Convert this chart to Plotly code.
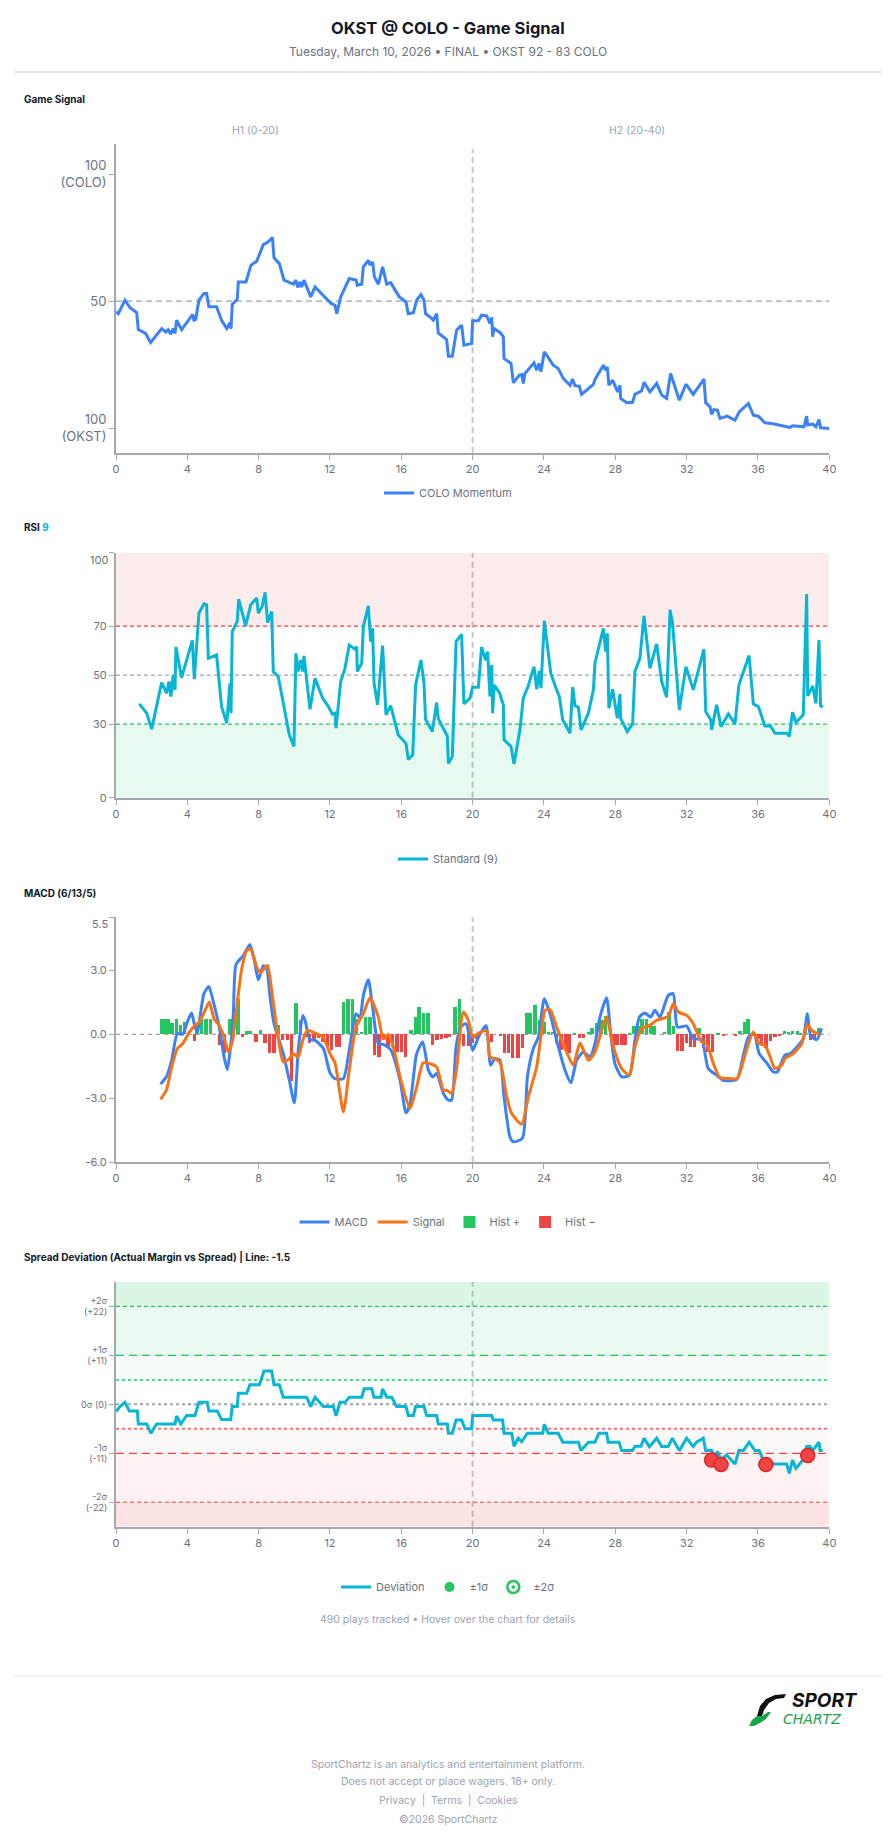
import plotly.graph_objects as go

W, H = 896, 1845
FONT = "Inter"

def py(p):
    return 1 - p / H

def pxx(p):
    return p / W

# ---------------- DATA ----------------
quarter_ticks = [0, 4, 8, 12, 16, 20, 24, 28, 32, 36, 40]

# Game Signal (COLO momentum, 0 = OKST 100, 100 = COLO 100)
gs_x = [0, 0.13, 0.5, 0.79, 1.16, 1.25, 1.66, 1.94, 2.56, 2.79,
        2.93, 3.07, 3.21, 3.31, 3.4, 3.68, 3.96, 4.3, 4.37, 4.47,
        4.65, 4.93, 5.08, 5.21, 5.64, 5.92, 6.21, 6.39, 6.45, 6.52,
        6.8, 6.86, 7.29, 7.57, 7.89, 8.26, 8.54, 8.77, 8.86, 9.16,
        9.42, 9.95, 10.09, 10.19, 10.32, 10.41, 10.54, 10.92, 11.16, 11.63,
        12.06, 12.28, 12.38, 12.6, 13.08, 13.46, 13.53, 13.78, 13.87, 14.15,
        14.24, 14.39, 14.49, 14.71, 14.95, 15.18, 15.4, 15.89, 16.26, 16.39,
        16.68, 16.86, 17.1, 17.27, 17.36, 17.7, 17.79, 17.98, 18.07, 18.54,
        18.64, 18.86, 19.1, 19.38, 19.51, 19.94, 20.0, 20.32, 20.5, 20.79,
        20.97, 21.07, 21.12, 21.2, 21.53, 21.72, 21.76, 22.15, 22.28, 22.62,
        22.75, 22.84, 22.93, 23.44, 23.59, 23.72, 23.83, 24.02, 24.52, 24.8,
        25.08, 25.46, 25.6, 25.74, 25.98, 26.11, 26.49, 26.77, 26.86, 27.33,
        27.46, 27.55, 27.64, 27.85, 28.13, 28.26, 28.3, 28.64, 28.97, 29.1,
        29.48, 29.61, 29.94, 30.32, 30.6, 30.88, 31.1, 31.59, 31.96, 32.37,
        32.97, 33.07, 33.31, 33.4, 33.53, 33.72, 33.87, 34.28, 34.71, 34.95,
        35.46, 35.74, 36.02, 36.39, 36.77, 37.61, 37.79, 37.94, 38.58, 38.73,
        38.79, 39.07, 39.25, 39.42, 39.51, 40.0]
gs_y = [45.8, 45.1, 50.4, 47.4, 45.5, 38.8, 37.3, 33.7, 39.2, 37.9,
        38.8, 37.0, 39.2, 37.3, 42.5, 38.8, 41.5, 44.8, 42.5, 42.8,
        50.4, 53.0, 53.0, 47.8, 47.8, 42.5, 39.2, 41.5, 39.2, 48.7,
        50.8, 57.6, 57.6, 64.2, 65.7, 72.3, 73.4, 75.1, 67.1, 64.8,
        58.3, 56.7, 58.3, 55.4, 57.6, 55.6, 58.3, 51.7, 55.6, 52.4,
        49.1, 48.4, 45.1, 51.7, 58.9, 58.3, 56.3, 56.7, 63.5, 66.1,
        64.2, 65.5, 59.6, 56.7, 63.5, 56.7, 57.3, 51.7, 49.7, 45.1,
        45.5, 50.4, 52.6, 50.4, 45.1, 43.2, 42.5, 45.1, 37.5, 34.9,
        28.3, 28.3, 38.6, 40.6, 32.7, 33.3, 42.3, 42.3, 44.5, 44.2,
        41.2, 43.6, 36.0, 39.2, 37.7, 36.0, 27.4, 25.5, 17.8, 20.9,
        21.1, 17.6, 21.5, 25.7, 22.8, 25.5, 22.2, 30.1, 24.8, 23.5,
        19.6, 16.9, 19.3, 16.7, 16.5, 13.3, 15.6, 17.2, 19.2, 24.8,
        22.8, 24.1, 16.9, 18.9, 14.3, 16.9, 11.7, 10.0, 10.2, 13.3,
        14.7, 18.1, 14.3, 17.6, 13.0, 11.7, 21.5, 11.0, 17.3, 13.3,
        19.3, 10.0, 8.4, 5.4, 7.3, 7.1, 3.8, 4.7, 3.1, 6.4,
        9.7, 5.1, 4.7, 2.1, 1.8, 0.8, 0.3, 0.9, 0.5, 4.7,
        1.2, 1.6, 0.5, 3.4, 0.1, -0.1]

# RSI (9)
rsi_x = [1.31, 1.72, 2.0, 2.56, 2.84, 2.97, 3.08, 3.21, 3.31, 3.36,
         3.68, 3.96, 4.28, 4.39, 4.65, 4.93, 5.08, 5.18, 5.64, 5.92,
         6.21, 6.39, 6.45, 6.52, 6.8, 6.88, 7.27, 7.55, 7.89, 7.98,
         8.2, 8.36, 8.5, 8.73, 8.82, 9.1, 9.48, 9.72, 9.98, 10.09,
         10.22, 10.36, 10.47, 10.54, 10.88, 11.16, 11.59, 11.91, 12.13, 12.28,
         12.34, 12.6, 12.84, 13.08, 13.4, 13.5, 13.53, 13.78, 13.87, 14.15,
         14.28, 14.39, 14.47, 14.67, 14.95, 15.14, 15.4, 15.83, 16.26, 16.39,
         16.64, 16.8, 17.1, 17.27, 17.36, 17.74, 17.98, 18.07, 18.58, 18.64,
         18.86, 19.07, 19.38, 19.51, 19.85, 20.0, 20.32, 20.5, 20.73, 20.84,
         20.97, 21.07, 21.12, 21.21, 21.5, 21.72, 21.76, 22.15, 22.32, 22.65,
         22.84, 23.12, 23.44, 23.59, 23.74, 23.83, 24.02, 24.38, 24.71, 24.86,
         25.05, 25.46, 25.61, 25.74, 25.93, 26.08, 26.49, 26.77, 26.86, 27.33,
         27.46, 27.55, 27.64, 27.85, 28.11, 28.26, 28.3, 28.67, 28.97, 29.1,
         29.38, 29.61, 29.94, 30.32, 30.6, 30.88, 31.07, 31.21, 31.59, 31.96,
         32.37, 32.97, 33.07, 33.35, 33.4, 33.68, 33.93, 34.34, 34.71, 34.93,
         35.5, 35.74, 36.02, 36.39, 36.71, 36.95, 37.61, 37.76, 37.94, 38.13,
         38.54, 38.73, 38.79, 39.07, 39.25, 39.42, 39.51, 39.63]
rsi_y = [38.3, 34.5, 28.0, 47.0, 42.6, 47.4, 41.3, 50.1, 44.0, 61.5,
         49.0, 56.2, 64.2, 48.4, 75.3, 79.1, 78.7, 56.9, 58.3, 37.2,
         30.4, 46.7, 34.5, 67.8, 72.0, 81.1, 70.1, 78.7, 81.5, 75.3,
         78.2, 83.8, 71.5, 76.0, 51.5, 49.4, 34.5, 25.6, 20.9, 58.9,
         51.5, 56.2, 51.5, 57.9, 36.1, 48.7, 40.6, 37.2, 34.1, 34.5,
         28.4, 47.4, 52.8, 62.3, 60.6, 61.7, 51.5, 54.9, 69.8, 78.3,
         63.7, 69.1, 46.7, 37.9, 62.1, 33.8, 37.6, 25.6, 22.2, 15.6,
         17.5, 46.0, 56.2, 46.7, 32.0, 27.0, 38.8, 32.4, 25.1, 14.0,
         16.8, 63.7, 66.7, 38.3, 40.6, 45.1, 45.1, 61.5, 56.2, 59.6,
         41.3, 54.2, 34.5, 46.0, 42.9, 37.9, 23.6, 20.9, 13.8, 27.7,
         40.6, 45.7, 53.5, 44.3, 51.8, 44.7, 72.3, 50.8, 44.0, 41.3,
         31.8, 26.3, 45.1, 37.5, 36.9, 27.7, 34.5, 44.0, 54.9, 69.1,
         59.6, 67.1, 36.5, 44.3, 32.4, 42.3, 32.4, 27.0, 30.1, 51.5,
         56.9, 74.2, 52.8, 62.8, 47.4, 41.0, 76.7, 71.3, 35.8, 53.5,
         44.0, 60.6, 35.2, 31.8, 27.7, 37.9, 29.0, 34.2, 30.1, 46.0,
         58.0, 38.3, 37.2, 29.3, 29.3, 26.3, 26.3, 25.1, 34.9, 30.7,
         33.8, 83.1, 41.6, 45.6, 38.5, 64.4, 37.5, 36.9]

# MACD (6/13/5)
macd_x = [2.5, 2.84, 3.12, 3.44, 3.74, 4.0, 4.24, 4.43, 4.56, 4.93,
          5.21, 5.46, 5.79, 6.06, 6.24, 6.39, 6.58, 6.73, 7.14, 7.51,
          7.74, 7.98, 8.26, 8.45, 8.64, 8.86, 9.38, 9.72, 10.0, 10.22,
          10.47, 10.6, 10.88, 11.16, 11.63, 12.0, 12.28, 12.75, 13.08, 13.46,
          13.68, 13.87, 14.15, 14.39, 14.71, 14.99, 15.4, 15.93, 16.26, 16.49,
          16.86, 17.2, 17.51, 17.76, 17.98, 18.36, 18.64, 18.82, 19.07, 19.33,
          19.63, 20.0, 20.37, 20.75, 21.01, 21.25, 21.53, 21.76, 22.09, 22.28,
          22.79, 23.07, 23.4, 23.68, 24.02, 24.34, 24.71, 25.18, 25.51, 25.83,
          26.21, 26.58, 26.86, 27.14, 27.51, 27.74, 27.98, 28.36, 28.79, 29.1,
          29.35, 29.66, 29.98, 30.22, 30.5, 30.97, 31.25, 31.48, 32.0, 32.37,
          32.84, 33.21, 33.68, 34.06, 34.8, 35.18, 35.46, 35.78, 36.07, 36.49,
          36.86, 37.08, 37.51, 37.79, 38.26, 38.54, 38.77, 38.95, 39.29, 39.57]
macd_y = [-2.34, -1.97, -1.22, 0.03, 0.0, 0.58, 1.0, 0.34, 0.11, 1.91,
          2.25, 1.52, 0.34, -1.06, -1.66, -0.83, 0.97, 3.28, 3.70, 4.22,
          3.55, 2.56, 3.23, 3.08, 1.75, 0.5, -0.91, -2.16, -3.22, -0.75,
          0.89, 0.66, -0.25, -0.28, -0.67, -1.81, -2.08, -2.08, -0.75, 0.97,
          0.78, 1.83, 2.56, 1.28, -0.44, -0.47, -0.72, -2.16, -3.69, -3.25,
          -0.91, -0.36, -1.66, -2.0, -1.84, -2.78, -3.09, -3.09, -0.59, 0.34,
          0.5, -0.75, -0.05, 0.42, -1.45, -1.14, -1.22, -2.94, -4.81, -5.05,
          -4.89, -2.0, -0.67, -0.13, 1.67, 0.97, -0.28, -1.69, -2.28, -1.22,
          -0.83, -1.06, -0.44, 0.81, 1.72, 0.03, -1.38, -2.0, -1.92, -0.28,
          0.81, 1.0, 0.81, 1.13, 0.81, 1.83, 1.91, 0.34, 0.39, -0.2,
          -0.25, -1.61, -1.92, -2.16, -2.13, -0.98, -0.13, 0.03, -0.91, -1.34,
          -1.77, -1.77, -0.98, -0.91, -0.52, -0.2, 0.97, -0.05, -0.25, 0.27]

signal_x = [2.5, 2.84, 3.12, 3.44, 3.74, 4.06, 4.34, 4.67, 4.93, 5.23,
            5.5, 5.79, 6.06, 6.3, 6.54, 6.73, 7.05, 7.33, 7.55, 7.89,
            8.11, 8.36, 8.5, 8.73, 9.01, 9.38, 9.72, 9.94, 10.22, 10.47,
            10.73, 11.16, 11.63, 12.0, 12.28, 12.75, 13.08, 13.46, 13.87, 14.24,
            14.71, 14.99, 15.27, 15.55, 16.02, 16.49, 16.86, 17.23, 17.61, 17.98,
            18.36, 18.54, 18.82, 19.1, 19.48, 19.76, 20.0, 20.32, 20.79, 20.97,
            21.25, 21.53, 21.91, 22.19, 22.75, 23.12, 23.59, 23.87, 24.06, 24.34,
            24.71, 25.23, 25.64, 26.02, 26.49, 26.86, 27.51, 27.89, 28.36, 28.79,
            29.1, 29.48, 29.94, 30.32, 30.97, 31.25, 31.53, 32.0, 32.37, 32.84,
            33.12, 33.5, 33.87, 34.43, 34.84, 35.27, 35.74, 36.07, 36.39, 36.67,
            36.95, 37.33, 37.51, 37.98, 38.45, 38.77, 39.01, 39.44]
signal_y = [-3.06, -2.59, -1.53, -0.67, -0.44, 0.03, 0.34, 0.58, 1.0, 1.52,
            0.73, 0.42, -0.13, -0.83, -0.28, 0.97, 3.08, 3.94, 4.02, 3.16,
            2.88, 3.16, 3.23, 2.06, 0.34, -1.3, -1.14, -0.91, -1.06, -0.28,
            0.19, 0.06, -0.16, -0.91, -1.34, -3.64, -1.69, 0.34, 0.97, 1.72,
            0.81, -0.2, 0.0, -0.59, -2.31, -3.48, -2.47, -1.34, -1.38, -1.53,
            -2.63, -2.63, -2.78, -1.61, 1.05, 0.66, -0.13, 0.06, 0.16, -1.06,
            -1.14, -1.3, -2.94, -3.72, -4.22, -2.94, -1.53, 0.19, 1.13, 1.16,
            0.34, -0.75, -1.45, -0.41, -1.22, -0.83, 0.81, -0.59, -1.61, -1.92,
            -0.59, 0.27, 0.42, 0.66, 0.84, 1.44, 1.05, 0.89, 0.5, -0.36,
            -0.44, -1.38, -2.03, -2.08, -2.08, -0.98, 0.11, -0.44, -0.52, -1.03,
            -1.61, -1.45, -1.14, -0.91, -0.44, 0.47, 0.19, 0.0]

hist_pos_x = [2.55, 2.75, 2.95, 3.15, 3.4, 3.6, 3.85, 4.55, 4.8, 5.05,
              5.3, 6.4, 6.6, 6.85, 7.35, 7.55, 8.1, 9.1, 10.1, 10.35,
              12.75, 13.0, 13.25, 13.5, 13.75, 14.0, 14.25, 16.55, 16.8, 17.0,
              17.25, 17.5, 19.0, 19.25, 20.45, 23.05, 23.25, 23.5, 23.75, 24.0,
              24.25, 24.5, 25.7, 26.5, 26.7, 26.95, 27.2, 27.45, 28.8, 29.05,
              29.3, 29.5, 29.75, 30.0, 30.2, 30.75, 31.0, 31.25, 32.7, 33.75,
              35.0, 35.25, 35.45, 37.5, 37.7, 37.95, 38.2, 38.4, 38.65, 39.4]
hist_pos_y = [0.69, 0.69, 0.69, 0.53, 0.73, 0.42, 0.58, 0.47, 0.94, 0.73,
              0.73, 0.69, 0.89, 1.67, 0.14, 0.14, 0.19, 0.42, 1.47, 0.66,
              1.52, 1.67, 1.67, 0.69, 0.11, 0.81, 0.81, 0.19, 0.81, 1.28,
              0.97, 0.97, 1.28, 1.63, 0.11, 0.97, 0.97, 1.36, 0.66, 0.58,
              0.11, 0.11, 0.06, 0.11, 0.3, 0.5, 0.66, 0.84, 0.06, 0.39,
              0.39, 0.73, 0.73, 0.39, 0.39, 0.11, 1.05, 0.39, 0.3, 0.03,
              0.16, 0.58, 0.73, 0.16, 0.11, 0.16, 0.16, 0.06, 0.31, 0.27]

hist_neg_x = [4.4, 5.8, 6.1, 7.1, 7.85, 8.35, 8.6, 8.85, 9.35, 9.6,
              9.85, 10.6, 10.85, 11.1, 11.35, 11.6, 11.85, 12.1, 12.35, 12.55,
              14.5, 14.75, 15.0, 15.25, 15.5, 15.75, 16.0, 16.25, 17.75, 18.0,
              18.25, 18.5, 18.7, 19.5, 19.75, 20.0, 20.25, 21.05, 21.55, 21.8,
              22.0, 22.25, 22.55, 22.8, 24.7, 24.95, 25.2, 25.4, 26.0, 26.2,
              27.9, 28.1, 28.35, 28.55, 31.5, 31.75, 32.0, 32.2, 32.45, 32.95,
              33.2, 33.45, 34.05, 34.75, 35.75, 36.0, 36.2, 36.45, 36.7, 36.95,
              37.2, 38.95, 39.15]
hist_neg_y = [-0.34, -0.52, -0.88, -0.13, -0.36, -0.44, -0.91, -0.91, -0.28, -0.28,
              -2.23, -0.13, -0.44, -0.28, -0.2, -0.36, -0.59, -0.75, -0.59, -0.59,
              -0.98, -1.06, -0.28, -0.59, -0.59, -0.83, -0.83, -1.06, -0.52, -0.28,
              -0.25, -0.2, -0.13, -0.56, -0.56, -0.44, -0.25, -0.36, -0.05, -0.88,
              -0.88, -1.14, -1.14, -0.67, -0.44, -0.75, -0.75, -0.91, -0.2, -0.2,
              -0.59, -0.52, -0.52, -0.52, -0.78, -0.78, -0.44, -0.62, -0.62, -0.67,
              -0.83, -0.83, -0.09, -0.05, -0.09, -0.25, -0.44, -0.67, -0.31, -0.13,
              -0.09, -0.28, -0.25]

# Spread deviation (actual margin vs spread)
dev_x = [0, 0.22, 0.5, 0.75, 1.2, 1.25, 1.72, 1.96, 2.28, 3.31,
         3.4, 3.64, 3.96, 4.43, 4.65, 5.12, 5.21, 5.68, 5.92, 6.43,
         6.52, 6.8, 6.86, 7.33, 7.51, 8.04, 8.3, 8.73, 8.86, 9.16,
         9.38, 10.69, 10.92, 11.16, 11.63, 12.19, 12.34, 12.56, 12.84, 13.08,
         13.78, 13.91, 14.34, 14.47, 14.86, 14.95, 15.18, 15.46, 15.74, 16.26,
         16.39, 16.68, 16.8, 17.27, 17.42, 17.98, 18.07, 18.58, 18.64, 18.86,
         19.07, 19.38, 19.57, 19.94, 20.0, 21.07, 21.16, 21.68, 21.76, 22.19,
         22.32, 22.56, 22.75, 23.07, 23.93, 24.02, 24.24, 24.8, 25.05, 25.93,
         26.07, 26.49, 26.86, 27.08, 27.51, 27.6, 28.21, 28.36, 28.97, 29.1,
         29.44, 29.61, 29.91, 30.32, 30.6, 30.97, 31.2, 31.59, 32.0, 32.37,
         32.56, 32.93, 33.07, 33.4, 33.59, 33.72, 33.93, 34.24, 34.71, 34.93,
         35.18, 35.51, 35.83, 36.07, 36.39, 37.61, 37.76, 37.94, 38.13, 38.54,
         38.73, 38.92, 39.07, 39.25, 39.42, 39.48, 39.63]
dev_y = [-1.65, -0.5, 0.45, -1.5, -1.5, -4.4, -4.4, -6.5, -4.4, -4.4,
         -2.6, -4.4, -2.5, -2.5, 0.45, 0.45, -1.5, -1.5, -3.4, -3.4,
         -0.5, -0.5, 2.5, 2.5, 4.4, 4.4, 7.5, 7.5, 4.4, 4.4,
         1.6, 1.6, -0.5, 1.6, -0.5, -0.5, -2.6, 0.45, 0.45, 1.6,
         1.6, 3.5, 3.5, 1.6, 1.6, 3.5, 1.6, 1.6, -0.5, -0.5,
         -2.5, -2.5, -0.5, -0.5, -2.5, -2.5, -4.4, -4.4, -6.5, -6.5,
         -3.5, -3.5, -5.5, -5.5, -2.5, -2.5, -3.5, -3.5, -6.5, -6.5,
         -9.4, -7.6, -8.4, -6.5, -6.5, -4.5, -6.5, -6.5, -8.5, -8.5,
         -10.4, -8.5, -8.5, -6.5, -6.5, -8.5, -8.5, -10.4, -10.4, -9.4,
         -9.4, -7.6, -9.5, -7.6, -9.5, -9.5, -7.6, -10.4, -7.6, -9.5,
         -8.5, -7.6, -10.4, -10.4, -11.8, -10.6, -12.4, -11.4, -13.4, -10.4,
         -10.4, -8.5, -10.4, -10.4, -13.4, -13.4, -15.5, -12.5, -14.4, -12.4,
         -9.5, -9.5, -10.4, -9.4, -8.5, -10.4, -10.4]

alert_x = [33.4, 33.93, 36.44, 38.79]
alert_y = [-12.5, -13.5, -13.5, -11.5]

sigma = 11
sigma_ticks = [22, 11, 0, -11, -22]
sigma_labels = ["+2σ<br>(+22)", "+1σ<br>(+11)", "0σ (0)", "-1σ<br>(-11)", "-2σ<br>(-22)"]

gs_ticks = [0, 50, 100]
gs_labels = ["100<br>(OKST)", "50", "100<br>(COLO)"]
rsi_ticks = [0, 30, 50, 70, 100]
rsi_labels = ["0", "30", "50", "70", ""]
macd_ticks = [-6, -3, 0, 3, 5.5]
macd_labels = ["-6.0", "-3.0", "0.0", "3.0", ""]

# ---------------- COLORS ----------------
BLUE = "#3b82f6"
CYAN = "#06b6d4"
ORANGE = "#f97316"
GREEN = "#22c55e"
RED = "#ef4444"
GREY = "#9ca3af"
TICK = "#6b7280"
AXIS = "#a3a8b2"

# ---------------- FIGURE ----------------
fig = go.Figure()

fig.add_trace(go.Scatter(x=gs_x, y=gs_y, mode="lines", name="COLO Momentum",
                         line=dict(color=BLUE, width=3), xaxis="x", yaxis="y",
                         legend="legend"))

fig.add_trace(go.Scatter(x=rsi_x, y=rsi_y, mode="lines", name="Standard (9)",
                         line=dict(color=CYAN, width=3), xaxis="x2", yaxis="y2",
                         legend="legend2"))

fig.add_trace(go.Bar(x=hist_pos_x, y=hist_pos_y, name="Hist +", marker=dict(color=GREEN, line=dict(width=0)),
                     width=0.19, xaxis="x3", yaxis="y3", legend="legend3", legendrank=3))
fig.add_trace(go.Bar(x=hist_neg_x, y=hist_neg_y, name="Hist −", marker=dict(color=RED, line=dict(width=0)),
                     width=0.19, xaxis="x3", yaxis="y3", legend="legend3", legendrank=4))
fig.add_trace(go.Scatter(x=macd_x, y=macd_y, mode="lines", name="MACD",
                         line=dict(color=BLUE, width=3, shape="spline", smoothing=0.6),
                         xaxis="x3", yaxis="y3", legend="legend3", legendrank=1))
fig.add_trace(go.Scatter(x=signal_x, y=signal_y, mode="lines", name="Signal",
                         line=dict(color=ORANGE, width=3, shape="spline", smoothing=0.6),
                         xaxis="x3", yaxis="y3", legend="legend3", legendrank=2))

fig.add_trace(go.Scatter(x=dev_x, y=dev_y, mode="lines", name="Deviation",
                         line=dict(color=CYAN, width=3), xaxis="x4", yaxis="y4",
                         legend="legend4", legendrank=1))
fig.add_trace(go.Scatter(x=alert_x, y=alert_y, mode="markers", showlegend=False,
                         marker=dict(color=RED, size=14, line=dict(color="#dc2626", width=1.5)),
                         xaxis="x4", yaxis="y4"))
fig.add_trace(go.Scatter(x=[None], y=[None], mode="markers", name="±1σ",
                         marker=dict(color=GREEN, size=10), xaxis="x4", yaxis="y4",
                         legend="legend4", legendrank=2))
fig.add_trace(go.Scatter(x=[None], y=[None], mode="markers", name="±2σ",
                         marker=dict(color=GREEN, size=12, symbol="circle-open-dot", line=dict(width=2.5, color=GREEN)),
                         xaxis="x4", yaxis="y4", legend="legend4", legendrank=3))

# ---------------- AXES ----------------
XD = [pxx(116), pxx(829.3)]

def xax(anchor):
    return dict(domain=XD, anchor=anchor, range=[0, 40], tickvals=quarter_ticks,
                showline=True, linecolor=AXIS, linewidth=2, ticks="outside", ticklen=5,
                tickcolor=AXIS, tickwidth=1, showgrid=False, zeroline=False,
                tickfont=dict(size=11, color=TICK, family=FONT), fixedrange=True)

def yax(anchor, top, bottom, rng, tv, tt, fs=11):
    return dict(domain=[py(bottom), py(top)], anchor=anchor, range=rng, tickvals=tv, ticktext=tt,
                showline=True, linecolor=AXIS, linewidth=2, ticks="outside", ticklen=5,
                tickcolor=AXIS, tickwidth=1, showgrid=False, zeroline=False,
                tickfont=dict(size=fs, color=TICK, family=FONT), fixedrange=True)

layout = dict(
    width=W, height=H, autosize=False,
    margin=dict(l=0, r=0, t=0, b=0, pad=0, autoexpand=False),
    paper_bgcolor="white", plot_bgcolor="white",
    font=dict(family=FONT, color=TICK),
    barmode="overlay", bargap=0,
    xaxis=xax("y"),
    yaxis=yax("x", 144.3, 453, [-9.8, 111.8], gs_ticks, gs_labels, fs=13),
    xaxis2=xax("y2"),
    yaxis2=yax("x2", 552.7, 797.7, [0, 100], rsi_ticks, rsi_labels),
    xaxis3=xax("y3"),
    yaxis3=yax("x3", 917.3, 1162, [-6, 5.5], macd_ticks, macd_labels),
    xaxis4=xax("y4"),
    yaxis4=yax("x4", 1282, 1526.7, [-27.5, 27.5], sigma_ticks, sigma_labels, fs=9),
)

def legend_at(yp):
    return dict(orientation="h", x=0.5, xanchor="center", y=py(yp), yanchor="middle",
                font=dict(size=11, color=TICK, family=FONT), bgcolor="rgba(0,0,0,0)",
                itemwidth=30, traceorder="normal")

layout["legend"] = legend_at(493)
layout["legend2"] = legend_at(859)
layout["legend3"] = legend_at(1222)
layout["legend4"] = legend_at(1587)
fig.update_layout(**layout)

# ---------------- SHAPES ----------------
shapes = []

def hline(xr, yr, y, color, dash, width=1.2, layer="below"):
    shapes.append(dict(type="line", xref=xr, yref=yr, x0=0, x1=40, y0=y, y1=y,
                       line=dict(color=color, dash=dash, width=width), layer=layer))

def band(xr, yr, y0, y1, color):
    shapes.append(dict(type="rect", xref=xr, yref=yr, x0=0, x1=40, y0=y0, y1=y1,
                       fillcolor=color, line=dict(width=0), layer="below"))

def vline(xr, yr, top=1.0):
    shapes.append(dict(type="line", xref=xr, yref=yr + " domain", x0=20, x1=20, y0=0, y1=top,
                       line=dict(color="#c4c8cf", dash="6px,4px", width=2), layer="below"))

# Game signal
hline("x", "y", 50, GREY, "6px,4px", 1.2)
vline("x", "y", 0.985)

# RSI
band("x2", "y2", 70, 100, "rgba(239,68,68,0.10)")
band("x2", "y2", 0, 30, "rgba(34,197,94,0.10)")
hline("x2", "y2", 70, RED, "4px,3px", 1.2)
hline("x2", "y2", 50, GREY, "4px,3px", 1.2)
hline("x2", "y2", 30, GREEN, "4px,3px", 1.2)
vline("x2", "y2")

# MACD
hline("x3", "y3", 0, GREY, "4px,4px", 1.2)
vline("x3", "y3")

# Spread deviation
band("x4", "y4", 22, 27.5, "rgba(34,197,94,0.16)")
band("x4", "y4", 11, 22, "rgba(34,197,94,0.09)")
band("x4", "y4", 5.5, 11, "rgba(34,197,94,0.04)")
band("x4", "y4", -11, -5.5, "rgba(239,68,68,0.03)")
band("x4", "y4", -22, -11, "rgba(239,68,68,0.07)")
band("x4", "y4", -27.5, -22, "rgba(239,68,68,0.15)")
hline("x4", "y4", 2 * sigma, GREEN, "4px,3px", 1.2)
hline("x4", "y4", sigma, GREEN, "8px,5px", 1.3)
hline("x4", "y4", sigma / 2, "#4ade80", "dot", 2)
hline("x4", "y4", 0, GREY, "dot", 2)
hline("x4", "y4", -sigma / 2, "#f87171", "dot", 2)
hline("x4", "y4", -sigma, RED, "8px,5px", 1.3)
hline("x4", "y4", -2 * sigma, RED, "4px,3px", 1.2)
vline("x4", "y4")

# header / footer rules
for yy, col in [(72, "#d1d5db"), (1676, "#e5e7eb")]:
    shapes.append(dict(type="line", xref="paper", yref="paper", x0=pxx(14), x1=pxx(882),
                       y0=py(yy), y1=py(yy), line=dict(color=col, width=1)))

# logo swoosh
def ppath(pts):
    return "M " + " L ".join(f"{pxx(a):.5f},{py(b):.5f}" for a, b in pts) + " Z"

shapes.append(dict(type="path", xref="paper", yref="paper", fillcolor="#111111", line=dict(width=0),
                   path=ppath([(757, 1716), (760, 1706), (766, 1699), (775, 1695), (786, 1694),
                               (784, 1698), (776, 1699), (769, 1703), (764, 1710), (762, 1716)])))
shapes.append(dict(type="path", xref="paper", yref="paper", fillcolor="#16a34a", line=dict(width=0),
                   path=ppath([(749, 1726), (752, 1720), (757, 1716), (762, 1716), (768, 1712),
                               (771, 1712), (766, 1719), (760, 1723), (754, 1726)])))

fig.update_layout(shapes=shapes)

# ---------------- TEXT ----------------
anns = []

def ann(text, x, y, size, color, xanchor="center", family=FONT):
    anns.append(dict(text=text, x=pxx(x), y=py(y), xref="paper", yref="paper",
                     xanchor=xanchor, yanchor="middle", showarrow=False,
                     font=dict(size=size, color=color, family=family)))

ann("<b>OKST @ COLO - Game Signal</b>", 448, 27.5, 16.5, "#111827")
ann("Tuesday, March 10, 2026 • FINAL • OKST 92 - 83 COLO", 448, 52, 12, TICK)

ann("<b>Game Signal</b>", 22, 99, 10, "#111827", "left")
ann("H1 (0-20)", 255, 131, 10.5, GREY)
ann("H2 (20-40)", 637, 131, 10.5, GREY)

ann("<b>RSI <span style='color:#06b6d4'>9</span></b>", 22, 527, 10, "#111827", "left")
ann("100", 110, 560, 11, TICK, "right")
ann("<b>MACD (6/13/5)</b>", 22, 893, 10, "#111827", "left")
ann("5.5", 110, 924, 11, TICK, "right")
ann("<b>Spread Deviation (Actual Margin vs Spread) | Line: -1.5</b>", 22, 1257, 10, "#111827", "left")

ann("490 plays tracked • Hover over the chart for details", 448, 1619, 10.5, GREY)

ann("<b><i>SPORT</i></b>", 825, 1700, 19, "#111111")
ann("<i>CHARTZ</i>", 812, 1719, 14, "#16a34a", family="DejaVu Sans")

ann("SportChartz is an analytics and entertainment platform.", 448, 1764, 10.5, GREY)
ann("Does not accept or place wagers. 18+ only.", 448, 1781, 10.5, GREY)
ann("Privacy  |  Terms  |  Cookies", 448, 1800, 10.5, GREY)
ann("©2026 SportChartz", 448, 1819, 10.5, GREY)

fig.update_layout(annotations=anns)

fig.write_html("out.html", config={"displayModeBar": False})
